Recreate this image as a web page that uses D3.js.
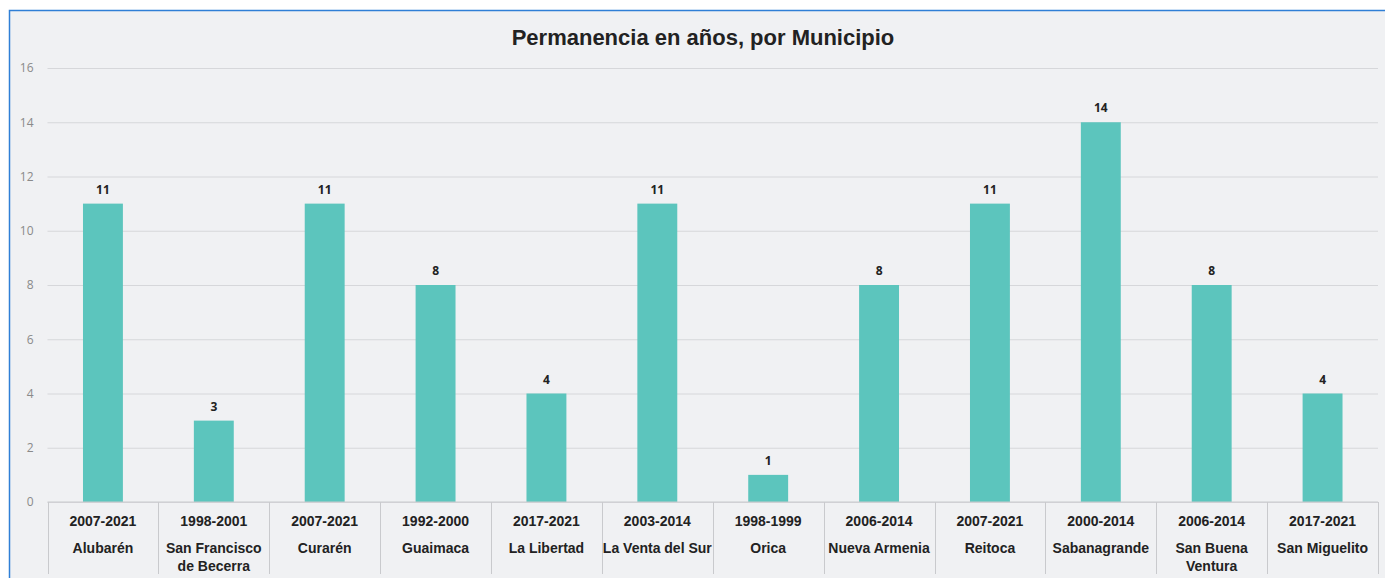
<!DOCTYPE html>
<html lang="es">
<head>
<meta charset="utf-8">
<title>Permanencia en años, por Municipio</title>
<script src="https://cdn.jsdelivr.net/npm/d3@7"></script>
<style>
  html, body { margin: 0; padding: 0; background: #fff; }
  svg { display: block; font-family: "Liberation Sans", Arial, sans-serif; }
</style>
</head>
<body>
<script>
// data
var municipios = ["Alubarén", "San Francisco de Becerra", "Curarén", "Guaimaca", "La Libertad",
  "La Venta del Sur", "Orica", "Nueva Armenia", "Reitoca", "Sabanagrande", "San Buena Ventura", "San Miguelito"];
var periodos = ["2007-2021", "1998-2001", "2007-2021", "1992-2000", "2017-2021", "2003-2014",
  "1998-1999", "2006-2014", "2007-2021", "2000-2014", "2006-2014", "2017-2021"];
var anios = [11, 3, 11, 8, 4, 11, 1, 8, 11, 14, 8, 4];
var yTicks = [0, 2, 4, 6, 8, 10, 12, 14, 16];

// names split where the reference wraps them
var nameLines = {
  "San Francisco de Becerra": ["San Francisco", "de Becerra"],
  "San Buena Ventura": ["San Buena", "Ventura"]
};

var w = 1385, h = 578;
var margin = { top: 68, right: 7, bottom: 76, left: 47.5 };

var svg = d3.select("body").append("svg")
  .attr("width", w)
  .attr("height", h);

// panel
svg.append("rect")
  .attr("x", 9.5).attr("y", 10.5)
  .attr("width", w).attr("height", h)
  .attr("fill", "#f0f1f3")
  .attr("stroke", "#2f7fd6")
  .attr("stroke-width", 1.5);

var x = d3.scaleBand()
  .domain(d3.range(municipios.length))
  .range([margin.left, w - margin.right])
  .paddingInner(0.64)
  .paddingOuter(0.32);

var xOuter = d3.scaleBand()
  .domain(d3.range(municipios.length))
  .range([margin.left, w - margin.right]);

var y = d3.scaleLinear()
  .domain([0, 16])
  .range([h - margin.bottom, margin.top]);

// gridlines + y labels
var yAxis = d3.axisLeft(y)
  .tickValues(yTicks)
  .tickSize(-(w - margin.right - margin.left))
  .tickPadding(14);

var gy = svg.append("g")
  .attr("transform", "translate(" + margin.left + ",0)")
  .call(yAxis);
gy.select(".domain").remove();
gy.selectAll(".tick line")
  .attr("stroke", "#d6d7da")
  .attr("stroke-width", 1);
gy.selectAll(".tick text")
  .attr("fill", "#8a8a8a")
  .attr("font-size", 12)
  .attr("font-family", "'Open Sans', sans-serif");

// bars
svg.selectAll("rect.bar")
  .data(anios)
  .enter()
  .append("rect")
  .attr("class", "bar")
  .attr("x", function(d, i) { return x(i); })
  .attr("y", function(d) { return y(d); })
  .attr("width", x.bandwidth())
  .attr("height", function(d) { return y(0) - y(d); })
  .attr("fill", "#5cc5bd");

// value labels
svg.selectAll("text.val")
  .data(anios)
  .enter()
  .append("text")
  .attr("class", "val")
  .attr("x", function(d, i) { return x(i) + x.bandwidth() / 2; })
  .attr("y", function(d) { return y(d) - 10; })
  .attr("text-anchor", "middle")
  .attr("font-size", 12)
  .attr("font-weight", "bold")
  .attr("font-family", "'Open Sans', sans-serif")
  .attr("fill", "#222")
  .text(function(d) { return d; });

// category axis: base line and separators
var base = y(0);
svg.append("line")
  .attr("x1", margin.left).attr("x2", w - margin.right)
  .attr("y1", base).attr("y2", base)
  .attr("stroke", "#c9cacd");

var seps = d3.range(municipios.length + 1).map(function(i) {
  return i < municipios.length ? xOuter(i) : xOuter.range()[1];
});
svg.selectAll("line.sep")
  .data(seps)
  .enter()
  .append("line")
  .attr("class", "sep")
  .attr("x1", function(d) { return Math.round(d) + 0.5; })
  .attr("x2", function(d) { return Math.round(d) + 0.5; })
  .attr("y1", base)
  .attr("y2", base + 72)
  .attr("stroke", "#c9cacd");

// period row
svg.selectAll("text.per")
  .data(periodos)
  .enter()
  .append("text")
  .attr("class", "per")
  .attr("x", function(d, i) { return xOuter(i) + xOuter.bandwidth() / 2; })
  .attr("y", base + 24)
  .attr("text-anchor", "middle")
  .attr("font-size", 14)
  .attr("font-weight", "bold")
  .attr("fill", "#222")
  .text(function(d) { return d; });

// name row
var names = svg.selectAll("text.name")
  .data(municipios)
  .enter()
  .append("text")
  .attr("class", "name")
  .attr("x", function(d, i) { return xOuter(i) + xOuter.bandwidth() / 2; })
  .attr("y", base + 51)
  .attr("text-anchor", "middle")
  .attr("font-size", 14)
  .attr("font-weight", "bold")
  .attr("fill", "#222");

names.each(function(d, i) {
  var lines = nameLines[d] || [d];
  var t = d3.select(this);
  lines.forEach(function(l, j) {
    t.append("tspan")
      .attr("x", xOuter(i) + xOuter.bandwidth() / 2)
      .attr("dy", j === 0 ? 0 : 18)
      .text(l);
  });
});

// title
svg.append("text")
  .attr("x", 703)
  .attr("y", 45)
  .attr("text-anchor", "middle")
  .attr("font-size", 22)
  .attr("font-weight", "bold")
  .attr("fill", "#222")
  .text("Permanencia en años, por Municipio");
</script>
</body>
</html>
